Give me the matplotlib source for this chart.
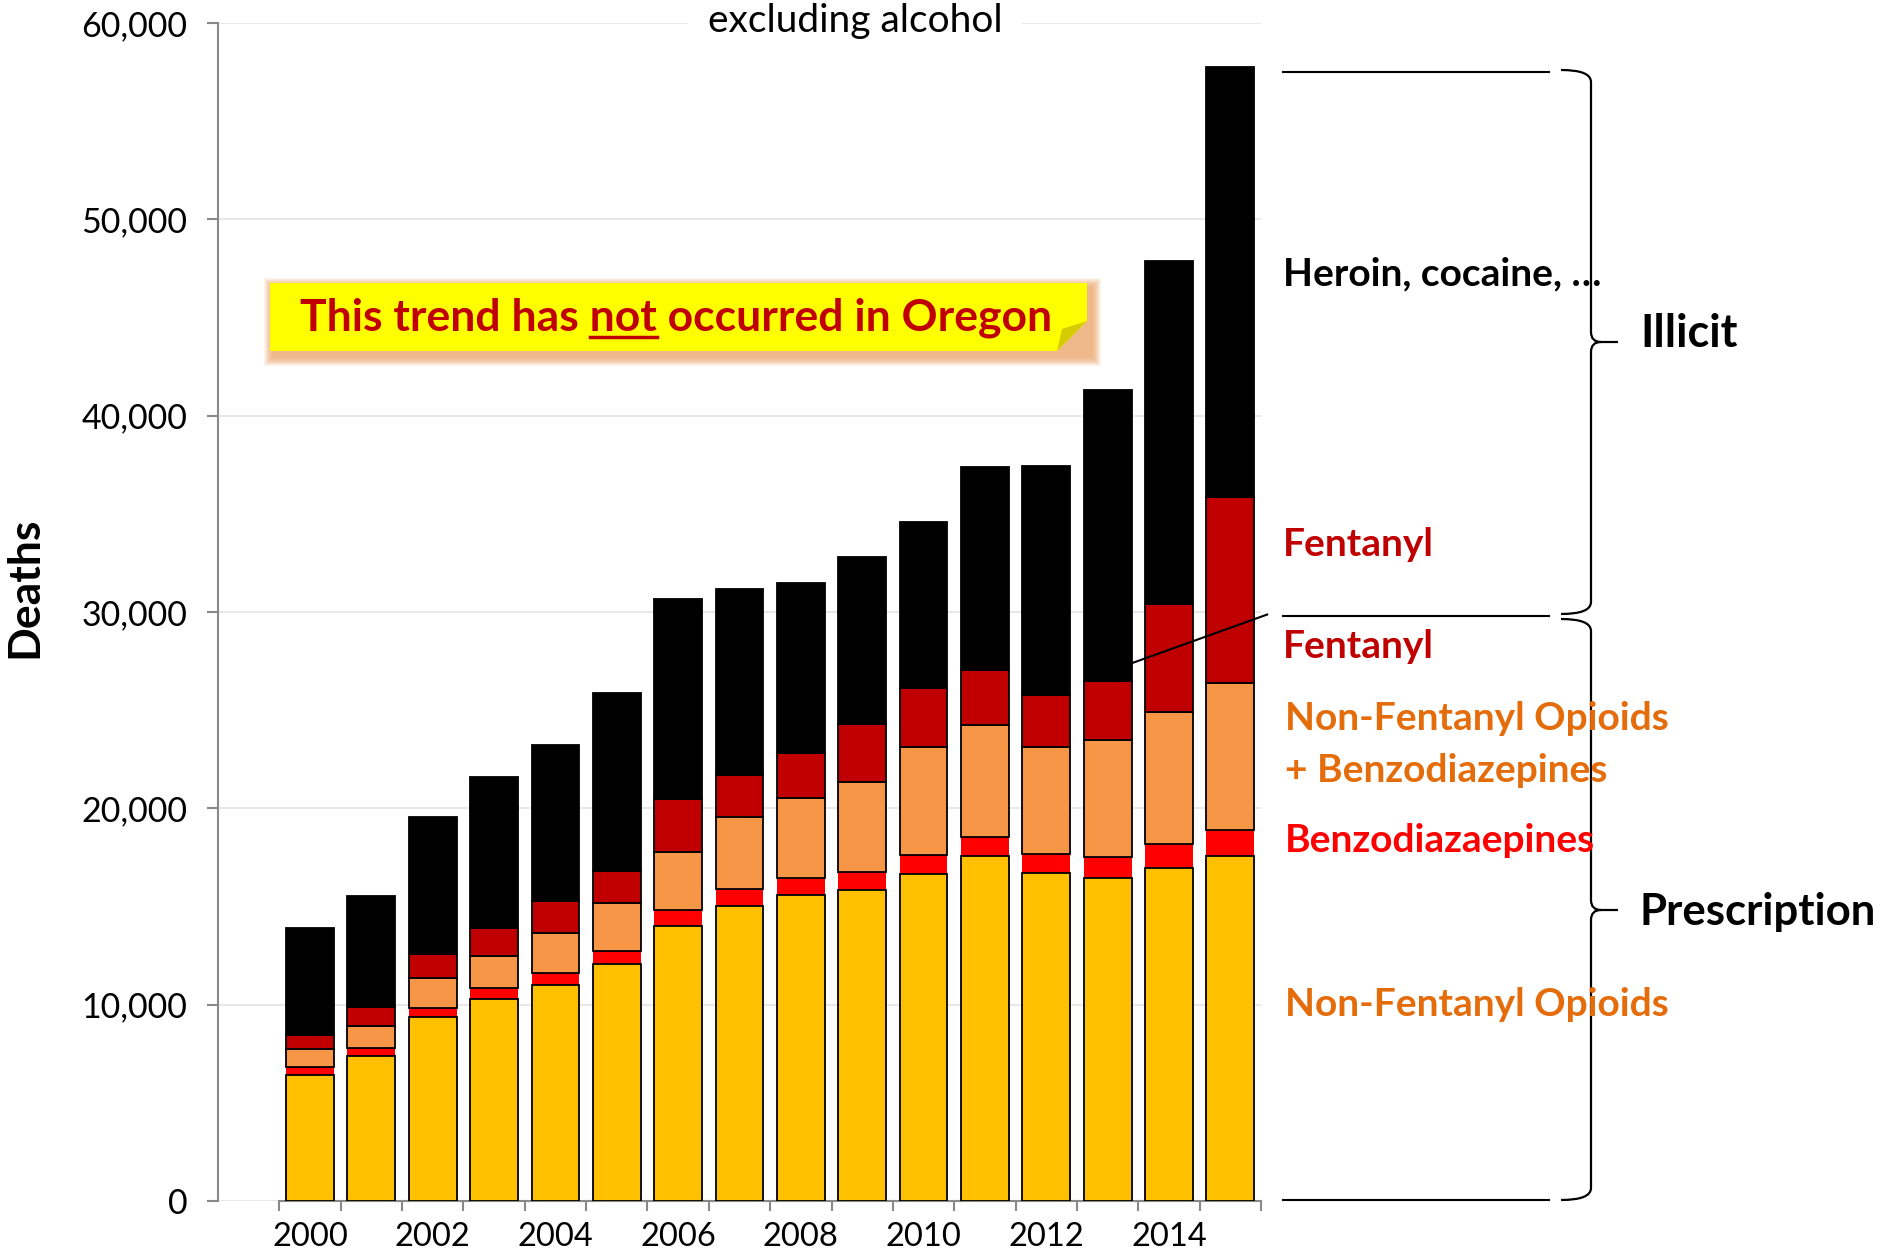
import matplotlib
matplotlib.use("Agg")
import matplotlib.pyplot as plt
import matplotlib.transforms as mtransforms
from matplotlib.patches import Polygon, PathPatch
from matplotlib.path import Path
from matplotlib.lines import Line2D

plt.rcParams['font.family'] = ['Lato', 'DejaVu Sans']

# deaths by category, stacked bottom -> top
years = list(range(2000, 2016))
non_fentanyl_opioids = [6440, 7370, 9360, 10280, 11000, 12050, 14010, 15050,
                        15600, 15840, 16640, 17550, 16700, 16440, 16950, 17550]
benzodiazepines = [380, 440, 490, 550, 620, 670, 790, 850,
                   850, 920, 970, 980, 980, 1100, 1230, 1350]
opioids_plus_benzo = [900, 1120, 1530, 1650, 2020, 2450, 3000, 3670,
                      4100, 4590, 5510, 5690, 5440, 5920, 6720, 7460]
fentanyl = [730, 930, 1220, 1400, 1650, 1650, 2690, 2140,
            2260, 2930, 3000, 2810, 2630, 3040, 5500, 9490]
heroin_cocaine = [5430, 5670, 6970, 7710, 7950, 9050, 10150, 9480,
                  8690, 8500, 8440, 10340, 11680, 14800, 17500, 21890]

layers = [non_fentanyl_opioids, benzodiazepines, opioids_plus_benzo, fentanyl, heroin_cocaine]
layer_colors = ['#FFC000', '#FF0000', '#F79646', '#C00000', '#000000']
layer_edges = ['black', 'none', 'black', 'black', 'black']

y_ticks = [0, 10000, 20000, 30000, 40000, 50000, 60000]
y_tick_labels = ['0', '10,000', '20,000', '30,000', '40,000', '50,000', '60,000']
x_label_years = [2000, 2002, 2004, 2006, 2008, 2010, 2012, 2014]

W, H = 1883, 1254
fig = plt.figure(figsize=(W / 100, H / 100), dpi=100)
ax = fig.add_axes([218 / W, 1 - 1201 / H, (1261 - 218) / W, (1201 - 23) / H])

# pixel coords (y down) -> figure
pix = mtransforms.Affine2D().scale(1 / W, -1 / H).translate(0, 1) + fig.transFigure

bottom = [0] * len(years)
for vals, col, ec in zip(layers, layer_colors, layer_edges):
    ax.bar(years, vals, bottom=bottom, width=0.78, color=col, edgecolor=ec,
           linewidth=1.3, zorder=2 if ec == 'none' else 3)
    bottom = [b + v for b, v in zip(bottom, vals)]

ax.set_xlim(1998.5, 2015.5)
ax.set_ylim(0, 60000)
for s in ['top', 'right']:
    ax.spines[s].set_visible(False)
for s in ['left', 'bottom']:
    ax.spines[s].set_color('#898989')
    ax.spines[s].set_linewidth(1.5)
ax.spines['bottom'].set_bounds(1999.5, 2015.5)

ax.set_yticks(y_ticks, y_tick_labels)
ax.tick_params(axis='y', length=8, width=1.5, color='#898989', labelsize=24.5, pad=14)
ax.set_xticks(x_label_years, [str(y) for y in x_label_years])
ax.set_xticks([y - 0.5 for y in years] + [years[-1] + 0.5], minor=True)
ax.tick_params(axis='x', which='major', length=0, labelsize=23.5, pad=15)
ax.tick_params(axis='x', which='minor', length=7, width=1.5, color='#898989')
ax.yaxis.grid(True, color='#E8E8E8', linewidth=1.5)
ax.set_axisbelow(True)

fig.text(24 / W, 1 - 587 / H, 'Deaths', rotation=90, fontsize=32,
         fontweight='bold', ha='center', va='center')
fig.text(855 / W, 1 - 21 / H, 'excluding alcohol', fontsize=28, ha='center',
         va='center', bbox=dict(boxstyle='square,pad=0.5', fc='white', ec='none'))

# leader line from the 2013 bar
ax.plot([2013.4, 2015.6], [27400, 29870], color='black', lw=1.5, zorder=4, clip_on=False)

# callout box with shadow and folded corner
L, T, R, B, cut = 270, 283, 1087, 351, 30
for k in range(9, 0, -1):
    fig.patches.append(Polygon([(L + 3 - k, T + 4 - k), (R + 5 + k, T + 4 - k),
                                (R + 5 + k, B + 6 + k), (L + 3 - k, B + 6 + k)],
                               closed=True, transform=pix, fc='#E8883A',
                               ec='none', alpha=0.09))
fig.patches.append(Polygon([(L, T), (R, T), (R, B - cut), (R - cut, B), (L, B)],
                           closed=True, transform=pix, fc='#FFFF00', ec='none'))
fig.patches.append(Polygon([(R, B - cut), (R - cut, B), (R - cut + 5, B - cut + 8)],
                           closed=True, transform=pix, fc='#D4CC00', ec='none'))

msg_kw = dict(fontsize=32, fontweight='bold', color='#C00000')
msg = fig.text(676, 330, 'This trend has not occurred in Oregon', transform=pix,
               ha='center', va='baseline', **msg_kw)
renderer = fig.canvas.get_renderer()
full_bb = msg.get_window_extent(renderer)
tmp1 = fig.text(0, 0, 'This trend has not', **msg_kw)
tmp2 = fig.text(0, 0, 'not', **msg_kw)
end_not = full_bb.x0 + tmp1.get_window_extent(renderer).width
start_not = end_not - tmp2.get_window_extent(renderer).width
tmp1.remove()
tmp2.remove()
fig.lines.append(Line2D([start_not / W, end_not / W], [1 - 337 / H, 1 - 337 / H],
                        transform=fig.transFigure, color='#C00000', lw=2.5))

# right-hand labels
lab_kw = dict(transform=pix, fontsize=28, fontweight='bold', va='center', ha='left')
fig.text(1283, 274, 'Heroin, cocaine, \u2026', color='black', **lab_kw)
fig.text(1283, 545, 'Fentanyl', color='#C00000', **lab_kw)
fig.text(1283, 646, 'Fentanyl', color='#C00000', **lab_kw)
fig.text(1285, 718, 'Non-Fentanyl Opioids', color='#E46C0A', **lab_kw)
fig.text(1285, 770, '+ Benzodiazepines', color='#E46C0A', **lab_kw)
fig.text(1285, 840, 'Benzodiazaepines', color='#FF0000', **lab_kw)
fig.text(1285, 1005, 'Non-Fentanyl Opioids', color='#E46C0A', **lab_kw)
fig.text(1640, 334, 'Illicit', transform=pix, fontsize=32.5, fontweight='bold',
         va='center', ha='left')
fig.text(1640, 912, 'Prescription', transform=pix, fontsize=31.5, fontweight='bold',
         va='center', ha='left')

for yl in [72, 616, 1200]:
    fig.lines.append(Line2D([1283, 1549], [yl, yl], transform=pix, color='black', lw=1.5))


def brace(top, bot, tip, xl=1561, xv=1591, xt=1618):
    verts = [(xl, top), (xv, top), (xv, top + 12),
             (xv, tip - 10), (xv, tip), (xv + 10, tip),
             (xt, tip),
             (xv + 10, tip), (xv, tip), (xv, tip + 10),
             (xv, bot - 12), (xv, bot), (xl, bot)]
    codes = [Path.MOVETO, Path.CURVE3, Path.CURVE3,
             Path.LINETO, Path.CURVE3, Path.CURVE3,
             Path.LINETO,
             Path.MOVETO, Path.CURVE3, Path.CURVE3,
             Path.LINETO, Path.CURVE3, Path.CURVE3]
    fig.patches.append(PathPatch(Path(verts, codes), transform=pix, fc='none',
                                 ec='black', lw=1.6))


brace(70, 614, 342)
brace(619, 1200, 910)

fig.savefig('out.png', dpi=100)
